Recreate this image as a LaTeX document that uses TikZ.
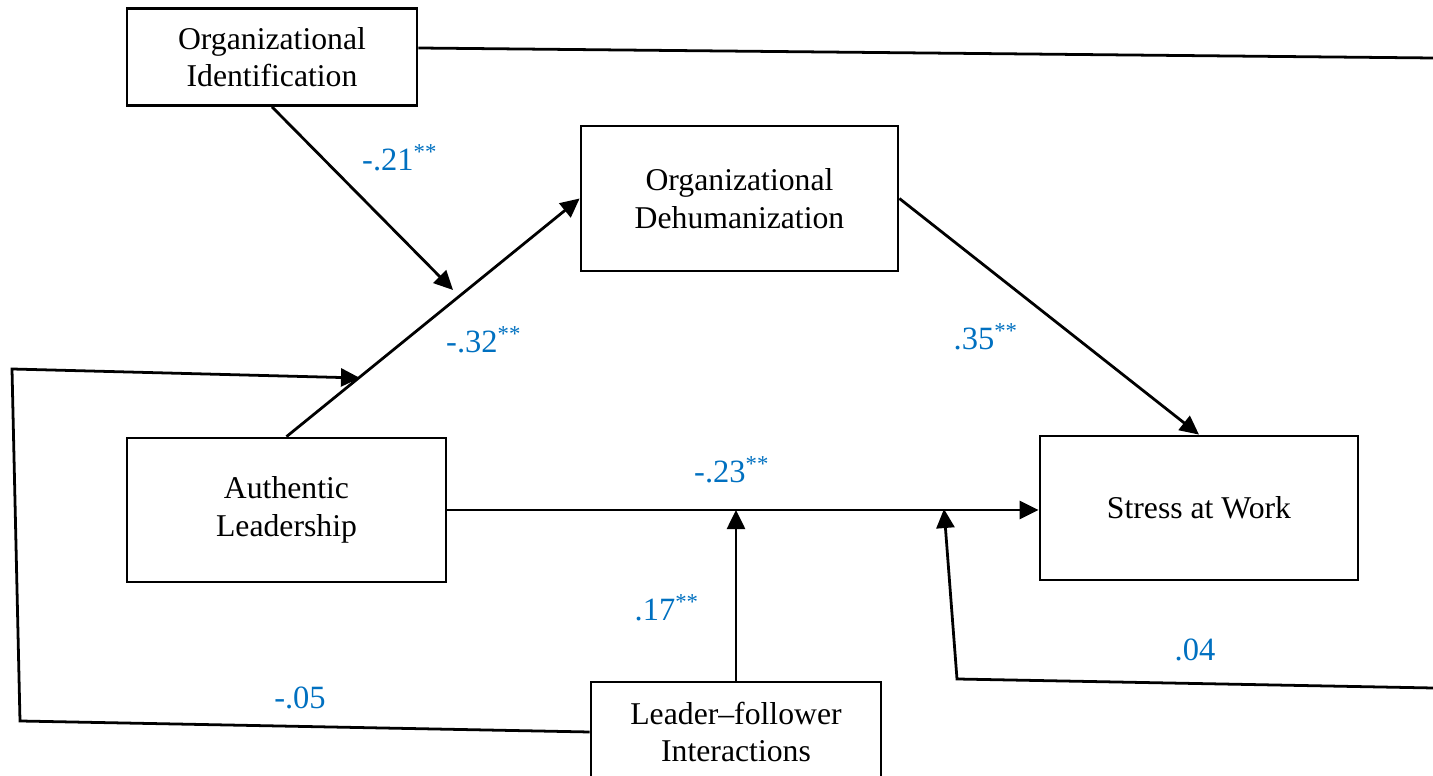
\documentclass[tikz,border=0pt]{standalone}
\usepackage{fontspec}
\setmainfont{Liberation Serif}
\usetikzlibrary{arrows.meta,calc}
\definecolor{lbl}{RGB}{0,112,192}
\begin{document}
\begin{tikzpicture}[x=0.3785pt,y=-0.3785pt,
  box/.style 2 args={draw,line width=1.05pt,align=center,inner sep=0pt,
     minimum width=#1*0.3785pt,minimum height=#2*0.3785pt,font=\fontsize{12}{14.2}\selectfont},
  conn/.style={line width=1.05pt},
  arr/.style={conn,-{Triangle[length=7.2pt,width=6.8pt]}},
  coef/.style={text=lbl,inner sep=0pt,font=\fontsize{12.3}{14}\selectfont}]
\useasboundingbox (0,0) rectangle (1433,776);
\clip (0,0) rectangle (1433,776);
% boxes
\node[box={290}{97}]  (oi) at (272,57)   {Organizational\\Identification};
\node[box={317}{145}] (od) at (739.5,198.5) {Organizational\\Dehumanization};
\node[box={319}{144}] (al) at (286.5,510)  {Authentic\\Leadership};
\node[box={318}{144}] (sw) at (1199,508)   {Stress at Work};
\node[box={290}{100}] (lf) at (736,732)    {Leader--follower\\Interactions};
% coordinates
\coordinate (m1) at (453,290);
\coordinate (tr) at (1433,58);
\coordinate (br) at (1433,688);
\coordinate (bk) at (957,679);
\coordinate (m3) at (944,509);
\coordinate (bl) at (20,721);
\coordinate (tl) at (12,369);
\coordinate (m2) at (360,378);
% connectors
\draw[arr] (al.north) -- (od.west);
\draw[arr] (oi.south) -- (m1);
\draw[conn] ($(oi.east)+(0,-9)$) -- (tr);
\draw[arr] (od.east) -- (sw.north);
\draw[arr] (al.east) -- (al.east -| sw.west);
\draw[arr] (lf.north) -- (lf.north |- al.east);
\draw[arr] (br) -- (bk) -- (m3);
\draw[arr] (lf.west) -- (bl) -- (tl) -- (m2);
% coefficients
\node[coef] (c1) at (400,158) {-.21\textsuperscript{**}};
\node[coef] (c2) at (484,340) {-.32\textsuperscript{**}};
\node[coef] (c3) at (986,337) {.35\textsuperscript{**}};
\node[coef] (c4) at (732,470) {-.23\textsuperscript{**}};
\node[coef] (c5) at (667,608) {.17\textsuperscript{**}};
\node[coef] (c6) at (1195,650) {.04};
\node[coef] (c7) at (300,698) {-.05};
\end{tikzpicture}
\end{document}
